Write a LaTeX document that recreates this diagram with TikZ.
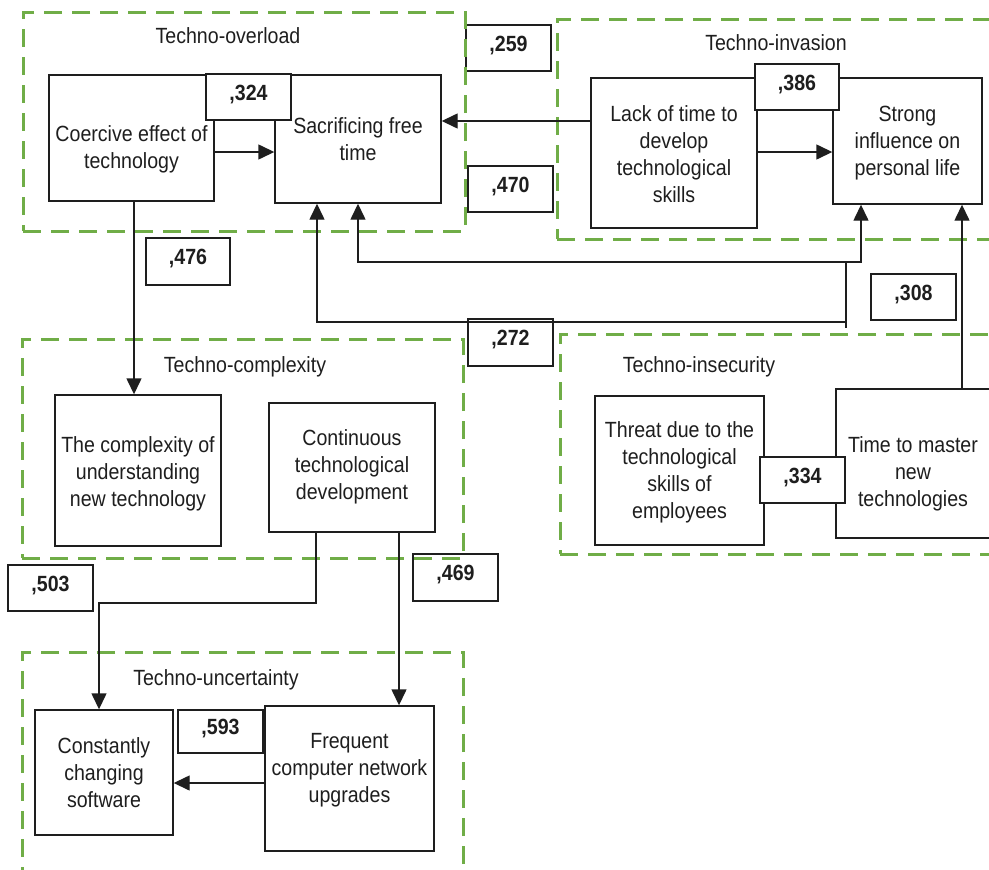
\documentclass[tikz,border=0pt]{standalone}
\usepackage{fontspec}
\setmainfont[FakeStretch=0.89]{Liberation Sans}
\usetikzlibrary{arrows.meta}
\definecolor{grp}{RGB}{112,173,71}
\definecolor{ink}{RGB}{30,30,30}
\newcommand\hs{\rule{0pt}{17pt}}
\newcommand\ds{\rule[-5pt]{0pt}{5pt}}
\begin{document}
\begin{tikzpicture}[x=1pt,y=-1pt,
  every node/.style={font=\fontsize{22}{27}\selectfont, text=ink},
  grpbox/.style={draw=grp, line width=3pt, dash pattern=on 18pt off 10pt, inner sep=0pt},
  box/.style={draw=ink, line width=1.4pt, fill=white, inner sep=0pt},
  lab/.style={draw=ink, line width=1.4pt, fill=white, inner sep=0pt, minimum width=85pt, minimum height=46pt,
    font=\fontsize{22}{27}\selectfont\bfseries, text height=16pt, text depth=10pt},
  ln/.style={draw=ink, line width=1.4pt},
  tip/.tip={Triangle[length=16pt,width=15pt]},
  arr/.style={ln, -tip},
  txt/.style={align=center, inner sep=0pt},
  ttl/.style={anchor=base, inner sep=0pt},
]
\useasboundingbox (0,0) rectangle (989,870);

% helper coordinates
\coordinate (h121) at (0,121);
\coordinate (h152) at (0,152);
\coordinate (h262) at (0,262);
\coordinate (h322) at (0,322);
\coordinate (h328) at (0,328);
\coordinate (h603) at (0,603);
\coordinate (h783) at (0,783);
\coordinate (v99) at (99,0);
\coordinate (v134) at (134,0);
\coordinate (v316) at (316,0);
\coordinate (v317) at (317,0);
\coordinate (v358) at (358,0);
\coordinate (v399) at (399,0);
\coordinate (v846) at (846,0);
\coordinate (v861) at (861,0);
\coordinate (v962) at (962,0);

% boxes
\node[box, minimum width=165pt, minimum height=126pt] (coe) at (131.5,138) {};
\node[box, minimum width=166pt, minimum height=128pt] (sac) at (358,139) {};
\node[box, minimum width=166pt, minimum height=150pt] (lack) at (674,153) {};
\node[box, minimum width=149pt, minimum height=126pt] (str) at (907.5,141) {};
\node[box, minimum width=166pt, minimum height=151pt] (cpx) at (138,470.5) {};
\node[box, minimum width=166pt, minimum height=129pt] (cont) at (352,467.5) {};
\node[box, minimum width=169pt, minimum height=149pt] (thr) at (679.5,470.5) {};
\node[box, minimum width=154pt, minimum height=149pt] (time) at (913,463.5) {};
\node[box, minimum width=138pt, minimum height=125pt] (con) at (104,772.5) {};
\node[box, minimum width=169pt, minimum height=145pt] (freq) at (349.5,778.5) {};

% box texts
\node[txt] (coeT) at (131.5,149) {\hs Coercive effect of\\technology\ds};
\node[txt] (sacT) at (358,140.5) {\hs Sacrificing free\\time\ds};
\node[txt] (lackT) at (674,155.5) {\hs Lack of time to\\develop\\technological\\skills\ds};
\node[txt] (strT) at (907.5,142) {\hs Strong\\influence on\\personal life\ds};
\node[txt] (cpxT) at (138,473) {\hs The complexity of\\understanding\\new technology\ds};
\node[txt] (contT) at (352,466) {\hs Continuous\\technological\\development\ds};
\node[txt] (thrT) at (679.5,471.5) {\hs Threat due to the\\technological\\skills of\\employees\ds};
\node[txt] (timeT) at (913,473) {\hs Time to master\\new\\technologies\ds};
\node[txt] (conT) at (104,774) {\hs Constantly\\changing\\software\ds};
\node[txt] (freqT) at (349.5,769) {\hs Frequent\\computer network\\upgrades\ds};

% coefficient labels
\node[lab] (l259) at (508.5,48) {,259};
\node[lab] (l470) at (510.5,189) {,470};
\node[lab] (l324) at (248.5,97) {,324};
\node[lab, minimum width=84pt] (l386) at (797,87) {,386};
\node[lab, minimum width=84pt, minimum height=47pt] (l476) at (188,261.5) {,476};
\node[lab, minimum height=47pt] (l272) at (510.5,342.5) {,272};
\node[lab] (l308) at (913.5,297) {,308};
\node[lab] (l334) at (802.5,480) {,334};
\node[lab] (l503) at (50.5,588) {,503};
\node[lab, minimum height=47pt] (l469) at (455.5,577.5) {,469};
\node[lab, minimum height=43pt] (l593) at (220.5,731.5) {,593};

% group frames
\node[grpbox, minimum width=442pt, minimum height=219pt] (gOver) at (244,121.5) {};
\node[grpbox, minimum width=443pt, minimum height=220pt] (gInv) at (778.5,129) {};
\node[grpbox, minimum width=441pt, minimum height=219pt] (gCpx) at (242.5,448.5) {};
\node[grpbox, minimum width=440pt, minimum height=220pt] (gIns) at (780,444) {};
\node[grpbox, minimum width=441pt, minimum height=219pt] (gUnc) at (242.5,761.5) {};

% group titles
\node[ttl] (tOver) at (228,43) {Techno-overload};
\node[ttl] (tInv) at (776,50) {Techno-invasion};
\node[ttl] (tCpx) at (245,372) {Techno-complexity};
\node[ttl] (tIns) at (699,372) {Techno-insecurity};
\node[ttl] (tUnc) at (216,685) {Techno-uncertainty};

% connectors
\draw[arr] (coe.east |- h152) -- (sac.west |- h152);
\draw[arr] (lack.west |- h121) -- (sac.east |- h121);
\draw[arr] (lack.east |- h152) -- (str.west |- h152);
\draw[arr] (coe.south -| v134) -- (cpx.north -| v134);
\draw[ln, tip-tip] (sac.south -| v358) |- (h262 -| v861) -- (str.south -| v861);
\draw[ln] (v846 |- h262) -- (v846 |- h328);
\draw[arr] (v846 |- h322) -| (sac.south -| v317);
\draw[arr] (time.north -| v962) -- (str.south -| v962);
\draw[arr] (cont.south -| v316) |- (h603 -| v99) -- (con.north -| v99);
\draw[arr] (cont.south -| v399) -- (freq.north -| v399);
\draw[arr] (freq.west |- h783) -- (con.east |- h783);
\end{tikzpicture}
\end{document}
